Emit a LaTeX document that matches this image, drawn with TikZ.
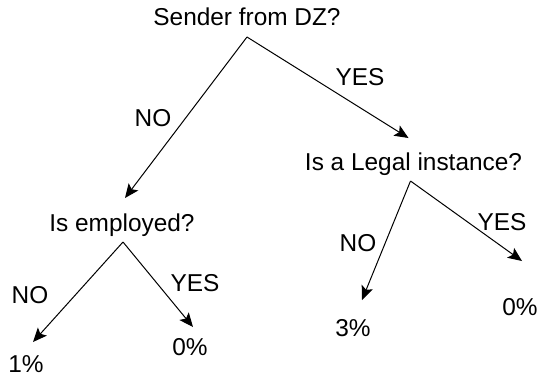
\documentclass[tikz,border=0pt]{standalone}
\usepackage{fontspec}
\setmainfont{Liberation Sans}
\usetikzlibrary{arrows.meta}

\begin{document}
\begin{tikzpicture}[x=1pt, y=-1pt,
    txt/.style={inner sep=0, text height=17.6pt, text depth=0pt, font=\fontsize{24.4}{28}\selectfont},
    edge/.style={line width=1pt, -{Stealth[length=14pt, width=12pt, inset=3pt]}}]
    \useasboundingbox (0, 0) rectangle (540, 378);

    \node[txt] (sender) at (247, 17) {Sender from DZ?};
    \node[txt] (employed) at (122, 223) {Is employed?};
    \node[txt] (legal) at (413.5, 162) {Is a Legal instance?};
    \node[txt] (one) at (26, 364) {1\%};
    \node[txt] (zeroA) at (190, 347) {0\%};
    \node[txt] (three) at (353, 328) {3\%};
    \node[txt] (zeroB) at (520, 307) {0\%};

    \node[txt] (senderNo) at (153, 118) {NO};
    \node[txt] (senderYes) at (360, 77) {YES};
    \node[txt] (employedNo) at (30, 295) {NO};
    \node[txt] (employedYes) at (195, 283) {YES};
    \node[txt] (legalNo) at (358, 243) {NO};
    \node[txt] (legalYes) at (502, 222) {YES};

    \draw[edge] ([yshift=-11pt]sender.south) -- ([xshift=3pt, yshift=16pt]employed.north);
    \draw[edge] ([yshift=-11pt]sender.south) -- ([xshift=-5pt, yshift=15pt]legal.north);
    \draw[edge] ([xshift=1pt, yshift=-10pt]employed.south) -- ([xshift=7pt, yshift=13pt]one.north);
    \draw[edge] ([xshift=1pt, yshift=-10pt]employed.south) -- ([xshift=3pt, yshift=11pt]zeroA.north);
    \draw[edge] ([xshift=-3pt, yshift=-10pt]legal.south) -- ([xshift=9pt, yshift=19pt]three.north);
    \draw[edge] ([xshift=-3pt, yshift=-10pt]legal.south) -- ([xshift=2pt, yshift=37pt]zeroB.north);
\end{tikzpicture}
\end{document}
